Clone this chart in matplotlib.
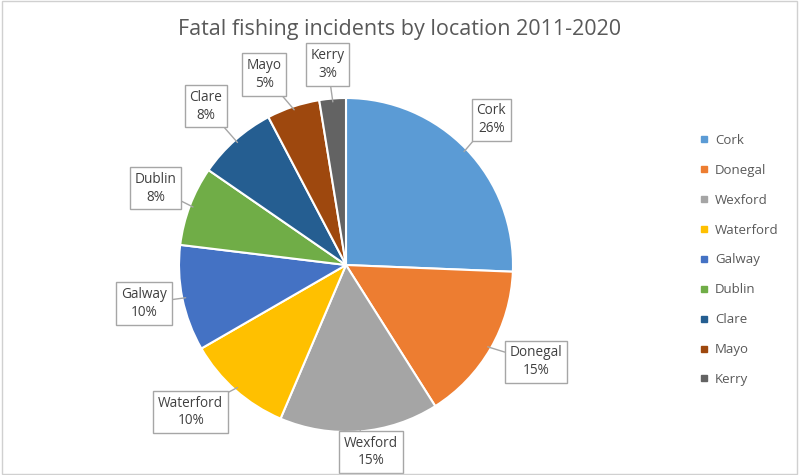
import matplotlib.pyplot as plt
import matplotlib.patches as patches
from matplotlib.lines import Line2D
import numpy as np

plt.rcParams['font.family'] = ['Open Sans', 'DejaVu Sans']

# data
locations = ["Cork", "Donegal", "Wexford", "Waterford", "Galway",
             "Dublin", "Clare", "Mayo", "Kerry"]
incidents = [10, 6, 6, 4, 4, 3, 3, 2, 1]
colors = ["#5B9BD5", "#ED7D31", "#A5A5A5", "#FFC000", "#4472C4",
          "#70AD47", "#255E91", "#9E480E", "#636363"]

# label box positions (data coords, pie radius = 1)
label_pos = [(0.87, 0.87), (1.14, -0.58), (0.15, -1.12), (-0.93, -0.88),
             (-1.21, -0.23), (-1.14, 0.46), (-0.84, 0.95), (-0.49, 1.14),
             (-0.11, 1.20)]

W, H = 799, 475
fig = plt.figure(figsize=(W / 100, H / 100), dpi=100)
fig.patches.append(patches.Rectangle((0.002, 0.003), 0.995, 0.994,
                                     transform=fig.transFigure, fill=False,
                                     edgecolor="#D0D0D0", linewidth=1))

cx, cy, r = 346, 265, 167
ax = fig.add_axes([(cx - r) / W, (H - cy - r) / H, 2 * r / W, 2 * r / H])
wedges, _ = ax.pie(incidents, colors=colors, startangle=90, counterclock=False,
                   radius=1, wedgeprops=dict(edgecolor="white", linewidth=1.5))
ax.set_xlim(-1, 1)
ax.set_ylim(-1, 1)
ax.set_aspect('equal')
ax.axis('off')

total = sum(incidents)
for w, name, n, pos in zip(wedges, locations, incidents, label_pos):
    mid = np.deg2rad((w.theta1 + w.theta2) / 2)
    pct = round(100 * n / total)
    ax.annotate("{}\n{}%".format(name, pct),
                xy=(0.98 * np.cos(mid), 0.98 * np.sin(mid)), xytext=pos,
                ha='center', va='center', fontsize=9.8, color="#404040",
                linespacing=1.25, annotation_clip=False,
                bbox=dict(boxstyle="square,pad=0.35", fc="white",
                          ec="#A6A6A6", lw=1),
                arrowprops=dict(arrowstyle='-', color="#A6A6A6", lw=1,
                                shrinkA=0, shrinkB=0))

fig.text(400 / W, 1 - 30 / H, "Fatal fishing incidents by location 2011-2020",
         ha='center', va='center', fontsize=15.5, color="#595959")

handles = [Line2D([], [], marker='s', linestyle='none', markersize=5,
                  markerfacecolor=c, markeredgecolor=c) for c in colors]
fig.legend(handles, locations, loc='center left',
           bbox_to_anchor=(686 / W, 1 - 260 / H), frameon=False,
           fontsize=9.5, labelcolor="#595959", labelspacing=1.28,
           handletextpad=0.3, handlelength=1)

plt.savefig("out.png", dpi=100)
